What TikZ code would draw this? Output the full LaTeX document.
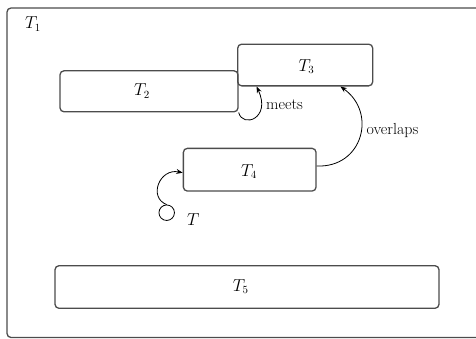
\documentclass[tikz,border=0pt]{standalone}
\usetikzlibrary{arrows.meta}
\begin{document}
\begin{tikzpicture}[x=1pt,y=-1pt,
  tbox/.style={draw=black!70,line width=1.3pt,rounded corners=4pt,inner sep=0pt,rectangle},
  lbl/.style={inner sep=0pt,font=\fontsize{16}{19}\selectfont},
  arr/.style={line width=0.8pt,-{Stealth[length=6.5pt,width=5pt]}}]
\useasboundingbox (0,0) rectangle (476,338);
% boxes
\node[tbox,minimum width=475pt,minimum height=329.5pt] (T1) at (244.5,172.75) {};
\node[tbox,minimum width=178pt,minimum height=41pt] (T2) at (149,91.3) {};
\node[tbox,minimum width=135pt,minimum height=41.7pt] (T3) at (305.2,65) {};
\node[tbox,minimum width=132.7pt,minimum height=42.7pt] (T4) at (249.7,169.7) {};
\node[tbox,minimum width=384pt,minimum height=42.6pt] (T5) at (247,287) {};
\node[draw=black,line width=0.8pt,circle,inner sep=0pt,minimum size=15.5pt] (Tc) at (166.7,212.7) {};
% labels
\node[lbl] (L1) at (33,24) {$T_1$};
\node[lbl] (L2) at (142,91) {$T_2$};
\node[lbl] (L3) at (306.5,66.5) {$T_3$};
\node[lbl] (L4) at (249,171.5) {$T_4$};
\node[lbl] (L5) at (240.7,286.5) {$T_5$};
\node[lbl] (LT) at (193.3,219.5) {$T$};
\node[lbl,anchor=west] (Lm) at (266,105) {meets};
\node[lbl,anchor=west] (Lo) at (366.5,131) {overlaps};
% connectors
\draw[arr] (T2.south east) .. controls +(4,16) and +(15,32) .. ([xshift=19.5pt]T3.south west);
\draw[arr] ([yshift=3.7pt]T4.east) .. controls +(46,2) and +(37,26) .. ([xshift=103.3pt]T3.south west);
\draw[arr] (Tc.north) .. controls +(-18.7,-7) and +(-23.3,-4.7) .. ([yshift=-3pt]T4.west);
\end{tikzpicture}
\end{document}
